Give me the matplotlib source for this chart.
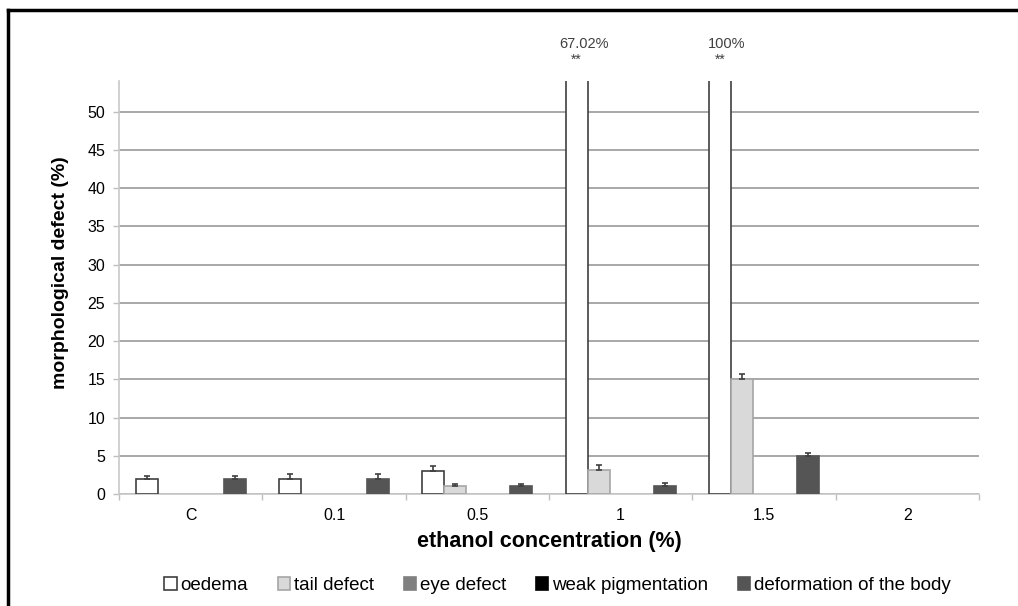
import matplotlib.pyplot as plt
import numpy as np
from matplotlib.lines import Line2D
from matplotlib.patches import Patch

plt.rcParams['font.family'] = ['Liberation Sans', 'DejaVu Sans']

# --- data --- #
concentrations = ['C', '0.1', '0.5', '1', '1.5', '2']
series_names = ['oedema', 'tail defect', 'eye defect', 'weak pigmentation', 'deformation of the body']

oedema = [1.9, 2.0, 3.0, 67.02, 100, 0]
tail_defect = [0, 0, 1.0, 3.2, 15.0, 0]
eye_defect = [0, 0, 0, 0, 0, 0]
weak_pigmentation = [0, 0, 0, 0, 0, 0]
deformation = [1.9, 2.0, 1.0, 1.05, 5.0, 0]

oedema_err = [0.45, 0.6, 0.6, 0, 0, 0]
tail_err = [0, 0, 0.3, 0.65, 0.7, 0]
eye_err = [0, 0, 0, 0, 0, 0]
weak_err = [0, 0, 0, 0, 0, 0]
deformation_err = [0.45, 0.6, 0.3, 0.35, 0.4, 0]

top_labels = {3: '67.02%', 4: '100%'}

values = [oedema, tail_defect, eye_defect, weak_pigmentation, deformation]
errors = [oedema_err, tail_err, eye_err, weak_err, deformation_err]
faces = ['white', '#d9d9d9', '#808080', 'black', '#555555']
edges = ['#404040', '#a6a6a6', '#808080', 'black', '#555555']

fig = plt.figure(figsize=(10.18, 6.06), dpi=100)
ax = fig.add_axes([0.1169, 0.1848, 0.8448, 0.6815])

n = len(concentrations)
x = np.arange(n)
bw = 1 / 6.5
start = -0.5 + 0.75 * bw

for i in range(len(series_names)):
	pos = x + start + (i + 0.5) * bw
	vals = np.array(values[i])
	err = np.array(errors[i])
	# no outline for empty bars (otherwise a line shows on the baseline)
	lw = [1.2 if v > 0 else 0 for v in vals]
	ax.bar(pos, vals, width=bw, color=faces[i], edgecolor=edges[i], linewidth=lw, zorder=3)
	mask = err > 0
	if mask.any():
		ax.errorbar(pos[mask], vals[mask], yerr=[np.zeros(mask.sum()), err[mask]],
			fmt='none', ecolor='#404040', elinewidth=1.2, capsize=2.5, capthick=1.2, zorder=4)

# --- labels above the clipped bars --- #
for k, txt in top_labels.items():
	bx = k + start + 0.5 * bw
	ax.annotate(txt, xy=(bx + 0.05, 1.0), xycoords=('data', 'axes fraction'),
		xytext=(0, 27), textcoords='offset points', ha='center', va='center',
		fontsize=10.5, color='#404040', annotation_clip=False)
	ax.annotate('**', xy=(bx, 1.0), xycoords=('data', 'axes fraction'),
		xytext=(0, 15), textcoords='offset points', ha='center', va='center',
		fontsize=10, color='#404040', annotation_clip=False)

ax.set_xlim(-0.5, n - 0.5)
ax.set_ylim(0, 54)
ax.set_yticks(np.arange(0, 51, 5))
ax.set_xticks(np.arange(-0.5, n, 1))
ax.set_xticklabels([])
ax.set_xticks(x, minor=True)
ax.set_xticklabels(concentrations, minor=True)
ax.tick_params(axis='x', which='major', length=4, color='#bfbfbf', width=1)
ax.tick_params(axis='x', which='minor', length=0, labelsize=11.5, pad=10)
ax.tick_params(axis='y', length=4, color='#bfbfbf', width=1, labelsize=11.5, pad=6)

ax.yaxis.grid(True, color='#9a9a9a', linewidth=1.2, zorder=0)
ax.set_axisbelow(True)
for s in ['top', 'right']:
	ax.spines[s].set_visible(False)
for s in ['left', 'bottom']:
	ax.spines[s].set_color('#c8c8c8')
	ax.spines[s].set_linewidth(1.2)

ax.set_xlabel('ethanol concentration (%)', fontsize=15.5, fontweight='bold', labelpad=6)
ax.set_ylabel('morphological defect (%)', fontsize=14, fontweight='bold')
ax.yaxis.set_label_coords(-0.058, 0.537)

handles = [Patch(facecolor=faces[i], edgecolor=edges[i], linewidth=1.2, label=series_names[i])
	for i in range(len(series_names))]
ax.legend(handles=handles, loc='center', bbox_to_anchor=(0.51, -0.222), ncol=5, frameon=False,
	fontsize=13.5, handlelength=0.65, handleheight=0.65, handletextpad=0.2, columnspacing=1.6)

# --- outer frame (top and left only) --- #
fig.add_artist(Line2D([8 / 1018, 1.0], [1 - 10 / 606, 1 - 10 / 606], color='black', linewidth=2.5))
fig.add_artist(Line2D([8 / 1018, 8 / 1018], [0, 1 - 10 / 606], color='black', linewidth=2.5))

plt.savefig('out.png', dpi=100)
